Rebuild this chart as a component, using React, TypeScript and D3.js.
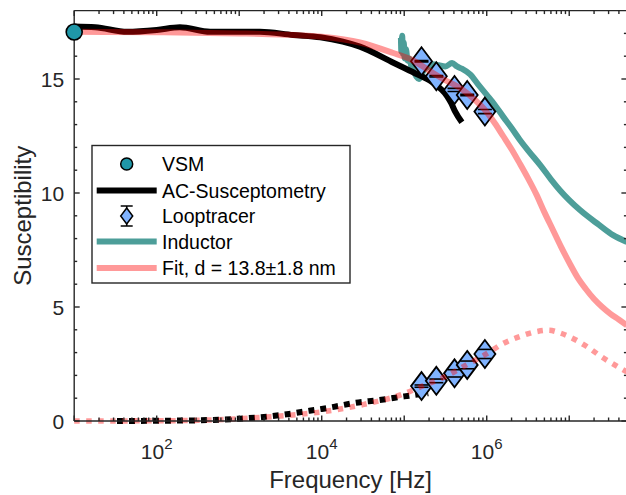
import React from 'react';
import * as d3 from 'd3';

const W = 626;
const H = 495;
const box = { left: 74.2, right: 626.9, top: 10.6, bottom: 421 };

// axis ticks
const yMajor = [0, 5, 10, 15];
const yMinor = [1, 2, 3, 4, 6, 7, 8, 9, 11, 12, 13, 14, 16, 17];
const xMajorExp = [1, 2, 3, 4, 5, 6, 7];
const xLabelExp = [2, 4, 6];

// VSM
const vsmFreq = [10];
const vsmVal = [17.06];

// AC-Susceptometry (real, solid)
const acFreq = [10, 18, 44, 100, 191, 445, 1780, 4500, 9600, 1.8e4, 2.9e4, 7.5e4, 1.35e5, 2.2e5, 3.3e5, 3.7e5, 4.1e5, 5e5];
const acReal = [17.3, 17.27, 17.07, 17.15, 17.27, 17.07, 17.07, 16.93, 16.83, 16.64, 16.42, 15.7, 15.25, 14.85, 14.25, 13.95, 13.6, 13.1];
// AC-Susceptometry (imaginary, dotted)
const acImFreq = [33, 100, 316, 1000, 2000, 4000, 7100, 1e4, 1.4e4, 2.5e4, 5e4, 1e5, 1.95e5];
const acImag = [0.0, 0.01, 0.03, 0.1, 0.18, 0.31, 0.45, 0.53, 0.62, 0.79, 0.92, 1.08, 1.22];

// Looptracer
const ltFreq = [1.62e5, 2.45e5, 4.07e5, 5.8e5, 9.5e5];
const ltReal = [15.78, 15.12, 14.52, 14.3, 13.57];
const ltRealErr = [0.03, 0.03, 0.07, 0.03, 0.09];
const ltImag = [1.53, 1.76, 2.09, 2.46, 2.94];
const ltImagErr = [0.05, 0.08, 0.16, 0.17, 0.2];

// Inductor
const indFreq = [9.12e4, 9.23e4, 9.44e4, 9.66e4, 9.89e4, 1.01e5, 1.05e5, 1.1e5, 1.15e5, 1.23e5, 1.32e5, 1.41e5, 1.51e5, 1.62e5, 1.78e5, 2e5, 2.24e5, 2.63e5, 3.16e5, 3.8e5, 4.37e5, 5e5, 6.3e5, 7.9e5, 1e6, 1.26e6, 1.58e6, 2e6, 2.5e6, 3.2e6, 4.5e6, 6e6, 7.8e6, 1.35e7, 2.3e7, 3.4e7, 5e7];
const indVal = [16.8, 16.2, 16.9, 16.1, 16.6, 15.9, 16.3, 15.8, 15.9, 15.5, 15.3, 15.1, 15.0, 15.2, 15.45, 15.55, 15.65, 15.6, 15.55, 15.7, 15.55, 15.45, 15.2, 14.75, 14.3, 13.85, 13.35, 12.85, 12.35, 11.85, 11.2, 10.6, 10.1, 9.25, 8.6, 8.15, 7.85];

// Fit
const fitFreq = [10, 100, 1000, 3160, 1e4, 2.9e4, 7.2e4, 1.3e5, 1.95e5, 2.95e5, 5e5, 7.1e5, 1e6, 1.26e6, 1.58e6, 2e6, 2.51e6, 3.16e6, 3.98e6, 5.01e6, 6.31e6, 7.94e6, 1e7, 1.26e7, 1.58e7, 2e7, 2.51e7, 3.16e7, 3.98e7, 5e7];
const fitReal = [17.07, 17.05, 17.0, 16.95, 16.85, 16.6, 16.15, 15.8, 15.4, 15.0, 14.55, 14.1, 13.55, 13.05, 12.5, 11.92, 11.3, 10.65, 9.95, 9.15, 8.4, 7.65, 6.95, 6.3, 5.8, 5.35, 5.0, 4.7, 4.45, 4.2];
const fitImFreq = [10, 100, 316, 1000, 3160, 1e4, 3.16e4, 1e5, 1.58e5, 3.16e5, 6.3e5, 1e6, 1.58e6, 2.5e6, 4e6, 5.6e6, 7.9e6, 1e7, 1.58e7, 2.5e7, 4e7, 5e7];
const fitImag = [0, 0.01, 0.03, 0.1, 0.22, 0.4, 0.72, 1.2, 1.5, 1.95, 2.55, 2.95, 3.4, 3.7, 3.92, 3.98, 3.85, 3.7, 3.3, 2.8, 2.35, 2.15];

const legendLabels = ['VSM', 'AC-Susceptometry', 'Looptracer', 'Inductor', 'Fit, d = 13.8\u00B11.8 nm'];

const AX = '#262626';
const FONT = '"Liberation Sans", Arial, Helvetica, sans-serif';
const TEAL_LINE = '#4D9E99';
const VSM_FILL = '#1F97A8';
const LT_FILL = '#80B3FF';
const FIT = 'rgba(255,0,0,0.4)';

export default function App() {
  const x = d3.scaleLog().domain([10, 5e7]).range([box.left, box.right]);
  const y = d3.scaleLinear().domain([0, 18]).range([box.bottom, box.top]);

  const mk = (fs: number[], vs: number[], curve: any = d3.curveMonotoneX) =>
    d3.line<number>().x((_, i) => x(fs[i])).y((d) => y(d)).curve(curve)(vs) || '';

  const xMinor: number[] = [];
  for (let e = 1; e <= 7; e++) {
    for (let m = 2; m <= 9; m++) {
      const v = m * Math.pow(10, e);
      if (v < 5e7) xMinor.push(v);
    }
  }

  const diamond = (cx: number, cy: number, w: number, h: number) =>
    `M${cx},${cy - h}L${cx + w},${cy}L${cx},${cy + h}L${cx - w},${cy}Z`;

  const ltMarks = (vals: number[], errs: number[]) =>
    ltFreq.map((f, i) => {
      const cx = x(f);
      const cy = y(vals[i]);
      const yt = y(vals[i] + errs[i]);
      const yb = y(vals[i] - errs[i]);
      return (
        <g key={i}>
          <line x1={cx} x2={cx} y1={yt} y2={yb} stroke="#000" strokeWidth={1.5} />
          <path d={diamond(cx, cy, 10.5, 14)} fill={LT_FILL} stroke="#000" strokeWidth={1.8} />
          <line x1={cx - 7} x2={cx + 7} y1={yt} y2={yt} stroke="#000" strokeWidth={1.6} />
          <line x1={cx - 7} x2={cx + 7} y1={yb} y2={yb} stroke="#000" strokeWidth={1.6} />
        </g>
      );
    });

  const rowY = [164, 190.5, 216, 241.5, 268];
  const lx0 = 96.7, lx1 = 156.7, lmx = 126.7, ltx = 162;

  return (
    <svg width={W} height={H} style={{ position: 'absolute', left: 0, top: 0, background: '#fff' }} fontFamily={FONT}>
      <rect x={0} y={0} width={W} height={H} fill="#fff" />
      <defs>
        <clipPath id="plotclip">
          <rect x={box.left - 4} y={box.top - 4} width={box.right - box.left + 8} height={box.bottom - box.top + 8} />
        </clipPath>
      </defs>

      <g clipPath="url(#plotclip)">
        {/* Inductor */}
        <path d={mk(indFreq, indVal)} fill="none" stroke={TEAL_LINE} strokeWidth={6} strokeLinejoin="round" />
        {/* AC real */}
        <path d={mk(acFreq, acReal)} fill="none" stroke="#000" strokeWidth={6} strokeLinejoin="round" />
        {/* AC imag */}
        <path d={mk(acImFreq, acImag)} fill="none" stroke="#000" strokeWidth={6} strokeDasharray="6 6" />
        {/* Looptracer */}
        {ltMarks(ltReal, ltRealErr)}
        {ltMarks(ltImag, ltImagErr)}
        {/* Fit */}
        <path d={mk(fitFreq, fitReal)} fill="none" stroke={FIT} strokeWidth={6} />
        <path d={mk(fitImFreq, fitImag)} fill="none" stroke={FIT} strokeWidth={5.5} strokeDasharray="5.5 6.5" />
      </g>

      {/* axes frame */}
      <g stroke={AX} strokeWidth={1.4} fill="none">
        <line x1={box.left} x2={box.left} y1={box.top} y2={box.bottom} />
        <line x1={box.left} x2={box.right} y1={box.bottom} y2={box.bottom} />
        <line x1={box.left} x2={box.right} y1={box.top} y2={box.top} />
        <line x1={box.right} x2={box.right} y1={box.top} y2={box.bottom} />
        {yMajor.map((v) => (
          <g key={'ym' + v}>
            <line x1={box.left} x2={box.left + 5.5} y1={y(v)} y2={y(v)} />
            <line x1={box.right} x2={box.right - 5.5} y1={y(v)} y2={y(v)} />
          </g>
        ))}
        {yMinor.map((v) => (
          <g key={'yn' + v}>
            <line x1={box.left} x2={box.left + 3} y1={y(v)} y2={y(v)} />
            <line x1={box.right} x2={box.right - 3} y1={y(v)} y2={y(v)} />
          </g>
        ))}
        {xMajorExp.map((e) => (
          <g key={'xm' + e}>
            <line x1={x(Math.pow(10, e))} x2={x(Math.pow(10, e))} y1={box.bottom} y2={box.bottom - 5.5} />
            <line x1={x(Math.pow(10, e))} x2={x(Math.pow(10, e))} y1={box.top} y2={box.top + 5.5} />
          </g>
        ))}
        {xMinor.map((v, i) => (
          <g key={'xn' + i}>
            <line x1={x(v)} x2={x(v)} y1={box.bottom} y2={box.bottom - 3.5} />
            <line x1={x(v)} x2={x(v)} y1={box.top} y2={box.top + 3.5} />
          </g>
        ))}
      </g>

      {/* VSM */}
      {vsmFreq.map((f, i) => (
        <circle key={i} cx={x(f)} cy={y(vsmVal[i])} r={8} fill={VSM_FILL} stroke="#000" strokeWidth={1.6} />
      ))}

      {/* tick labels */}
      <g fill={AX} fontSize={21}>
        {yMajor.map((v) => (
          <text key={'yl' + v} x={box.left - 10} y={y(v)} textAnchor="end" dominantBaseline="central">
            {v}
          </text>
        ))}
        {xLabelExp.map((e) => (
          <text key={'xl' + e} x={x(Math.pow(10, e))} y={459} textAnchor="middle">
            10
            <tspan dy={-10} fontSize={15}>{e}</tspan>
          </text>
        ))}
      </g>

      {/* axis labels */}
      <text x={(box.left + box.right) / 2} y={488} textAnchor="middle" fontSize={24} fill={AX}>
        Frequency [Hz]
      </text>
      <text transform={`translate(31,${(box.top + box.bottom) / 2}) rotate(-90)`} textAnchor="middle" fontSize={24} fill={AX}>
        Susceptibility
      </text>

      {/* legend */}
      <g>
        <rect x={92} y={145.5} width={258} height={137.5} fill="#fff" stroke={AX} strokeWidth={1.4} />
        <circle cx={lmx} cy={rowY[0]} r={6} fill={VSM_FILL} stroke="#000" strokeWidth={1.5} />
        <line x1={lx0} x2={lx1} y1={rowY[1]} y2={rowY[1]} stroke="#000" strokeWidth={6} />
        <g>
          <line x1={lmx} x2={lmx} y1={rowY[2] - 10} y2={rowY[2] + 10} stroke="#000" strokeWidth={1.5} />
          <line x1={lmx - 6} x2={lmx + 6} y1={rowY[2] - 10} y2={rowY[2] - 10} stroke="#000" strokeWidth={1.5} />
          <line x1={lmx - 6} x2={lmx + 6} y1={rowY[2] + 10} y2={rowY[2] + 10} stroke="#000" strokeWidth={1.5} />
          <path d={diamond(lmx, rowY[2], 6, 8)} fill={LT_FILL} stroke="#000" strokeWidth={1.5} />
        </g>
        <line x1={lx0} x2={lx1} y1={rowY[3]} y2={rowY[3]} stroke={TEAL_LINE} strokeWidth={6} />
        <line x1={lx0} x2={lx1} y1={rowY[4]} y2={rowY[4]} stroke={FIT} strokeWidth={6} />
        {legendLabels.map((t, i) => (
          <text key={t} x={ltx} y={rowY[i]} dominantBaseline="central" fontSize={19.5} fill="#000">
            {t}
          </text>
        ))}
      </g>
    </svg>
  );
}
